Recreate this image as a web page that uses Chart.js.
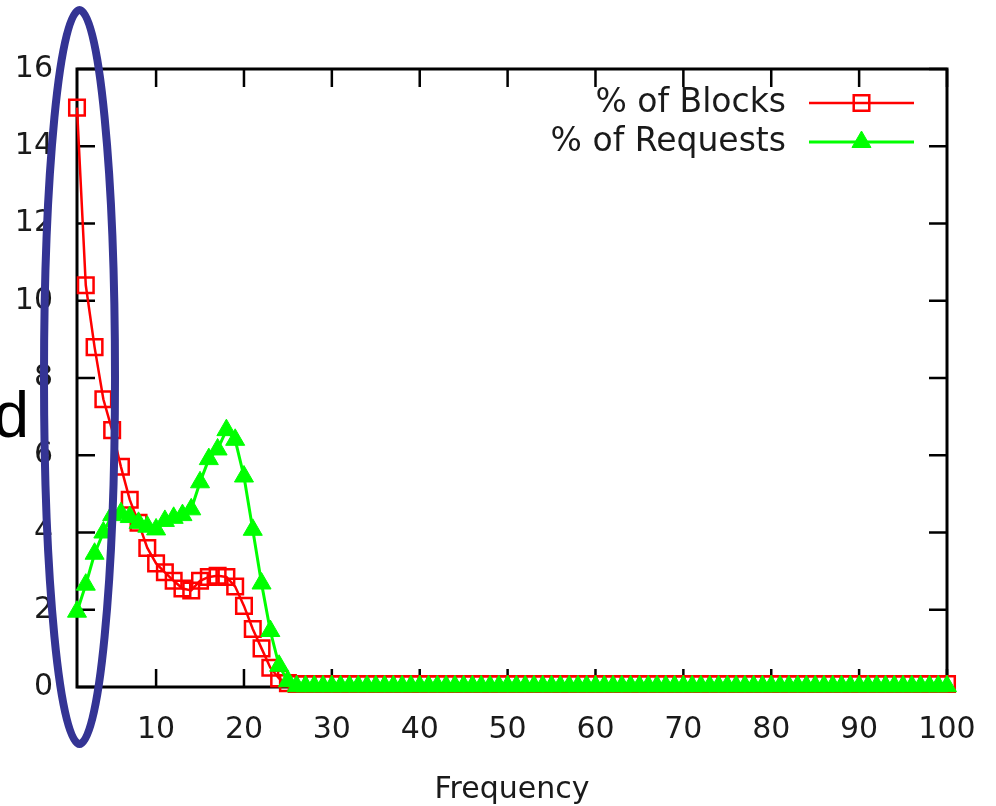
<!DOCTYPE html>
<html>
<head>
<meta charset="utf-8">
<script src="https://cdn.jsdelivr.net/npm/chart.js@4.4.1/dist/chart.umd.min.js"></script>
<style>
body { margin: 0; background: #fff; }
canvas { display: block; }
</style>
</head>
<body>
<canvas id="c" width="996" height="806"></canvas>
<script>
// frequency values on the x axis
var freq = [1, 2, 3, 4, 5, 6, 7, 8, 9, 10,
    11, 12, 13, 14, 15, 16, 17, 18, 19, 20,
    21, 22, 23, 24, 25, 26, 27, 28, 29, 30,
    31, 32, 33, 34, 35, 36, 37, 38, 39, 40,
    41, 42, 43, 44, 45, 46, 47, 48, 49, 50,
    51, 52, 53, 54, 55, 56, 57, 58, 59, 60,
    61, 62, 63, 64, 65, 66, 67, 68, 69, 70,
    71, 72, 73, 74, 75, 76, 77, 78, 79, 80,
    81, 82, 83, 84, 85, 86, 87, 88, 89, 90,
    91, 92, 93, 94, 95, 96, 97, 98, 99, 100];

var blocks = [15.0, 10.4, 8.8, 7.45, 6.65, 5.7, 4.85, 4.25, 3.6, 3.2,
    2.97, 2.75, 2.55, 2.5, 2.75, 2.85, 2.88, 2.85, 2.6, 2.1,
    1.5, 1.0, 0.5, 0.22, 0.1, 0.08, 0.08, 0.08, 0.08, 0.08,
    0.08, 0.08, 0.08, 0.08, 0.08, 0.08, 0.08, 0.08, 0.08, 0.08,
    0.08, 0.08, 0.08, 0.08, 0.08, 0.08, 0.08, 0.08, 0.08, 0.08,
    0.08, 0.08, 0.08, 0.08, 0.08, 0.08, 0.08, 0.08, 0.08, 0.08,
    0.08, 0.08, 0.08, 0.08, 0.08, 0.08, 0.08, 0.08, 0.08, 0.08,
    0.08, 0.08, 0.08, 0.08, 0.08, 0.08, 0.08, 0.08, 0.08, 0.08,
    0.08, 0.08, 0.08, 0.08, 0.08, 0.08, 0.08, 0.08, 0.08, 0.08,
    0.08, 0.08, 0.08, 0.08, 0.08, 0.08, 0.08, 0.08, 0.08, 0.08];

var requests = [1.95, 2.65, 3.45, 4.0, 4.45, 4.5, 4.4, 4.25, 4.15, 4.08,
    4.3, 4.38, 4.45, 4.6, 5.3, 5.9, 6.15, 6.65, 6.4, 5.45,
    4.07, 2.68, 1.45, 0.55, 0.15, 0.02, 0.02, 0.02, 0.02, 0.02,
    0.02, 0.02, 0.02, 0.02, 0.02, 0.02, 0.02, 0.02, 0.02, 0.02,
    0.02, 0.02, 0.02, 0.02, 0.02, 0.02, 0.02, 0.02, 0.02, 0.02,
    0.02, 0.02, 0.02, 0.02, 0.02, 0.02, 0.02, 0.02, 0.02, 0.02,
    0.02, 0.02, 0.02, 0.02, 0.02, 0.02, 0.02, 0.02, 0.02, 0.02,
    0.02, 0.02, 0.02, 0.02, 0.02, 0.02, 0.02, 0.02, 0.02, 0.02,
    0.02, 0.02, 0.02, 0.02, 0.02, 0.02, 0.02, 0.02, 0.02, 0.02,
    0.02, 0.02, 0.02, 0.02, 0.02, 0.02, 0.02, 0.02, 0.02, 0.02];

var xTicks = [10, 20, 30, 40, 50, 60, 70, 80, 90, 100];
var yTicks = [0, 2, 4, 6, 8, 10, 12, 14, 16];
var seriesNames = ['% of Blocks', '% of Requests'];
var xTitle = 'Frequency';

var FONT = 'DejaVu Sans',
    TEXT = '#1a1a1a';

function toPoints(ys) {
    return freq.map(function(f, i) {
        return { x: f, y: ys[i] };
    });
}

// gnuplot style box with inward ticks on all four sides
var framePlugin = {
    id: 'frame',
    beforeDatasetsDraw: function(chart) {
        var ctx = chart.ctx, a = chart.chartArea,
            xs = chart.scales.x, ys = chart.scales.y, len = 18;
        ctx.save();
        ctx.strokeStyle = '#000';
        ctx.lineWidth = 3;
        ctx.strokeRect(a.left, a.top, a.right - a.left, a.bottom - a.top);
        ctx.lineWidth = 2.5;
        ctx.beginPath();
        xTicks.forEach(function(v) {
            var px = xs.getPixelForValue(v);
            ctx.moveTo(px, a.bottom); ctx.lineTo(px, a.bottom - len);
            ctx.moveTo(px, a.top); ctx.lineTo(px, a.top + len);
        });
        yTicks.forEach(function(v) {
            var py = ys.getPixelForValue(v);
            ctx.moveTo(a.left, py); ctx.lineTo(a.left + len, py);
            ctx.moveTo(a.right, py); ctx.lineTo(a.right - len, py);
        });
        ctx.stroke();
        ctx.restore();
    }
};

// legend in the top right, text left of the sample line
var keyPlugin = {
    id: 'key',
    afterDatasetsDraw: function(chart) {
        var ctx = chart.ctx;
        var textRight = 786, lineL = 809, lineR = 914, rows = [103, 142];
        ctx.save();
        chart.data.datasets.forEach(function(ds, i) {
            var y = rows[i];
            ctx.font = '33px "' + FONT + '"';
            ctx.fillStyle = TEXT;
            ctx.textAlign = 'right';
            ctx.textBaseline = 'middle';
            ctx.fillText(ds.label, textRight, y);
            ctx.strokeStyle = ds.borderColor;
            ctx.lineWidth = ds.borderWidth;
            ctx.beginPath();
            ctx.moveTo(lineL, y); ctx.lineTo(lineR, y);
            ctx.stroke();
            ctx.fillStyle = ds.pointBackgroundColor;
            ctx.strokeStyle = ds.pointBorderColor;
            ctx.lineWidth = ds.pointBorderWidth;
            Chart.helpers.drawPoint(ctx, {
                pointStyle: ds.pointStyle,
                radius: ds.pointRadius,
                rotation: 0,
                borderWidth: ds.pointBorderWidth
            }, (lineL + lineR) / 2, y);
        });
        ctx.restore();
    }
};

// slide overlay: blue ellipse round the y axis and a cut off letter
var overlayPlugin = {
    id: 'overlay',
    afterDraw: function(chart) {
        var ctx = chart.ctx;
        ctx.save();
        ctx.font = '64px "Liberation Sans"';
        ctx.fillStyle = '#000';
        ctx.textAlign = 'right';
        ctx.textBaseline = 'alphabetic';
        ctx.fillText('d', 29, 437);
        ctx.strokeStyle = '#343494';
        ctx.lineWidth = 8;
        ctx.beginPath();
        ctx.ellipse(79.5, 377, 35.5, 367, 0, 0, Math.PI * 2);
        ctx.stroke();
        ctx.restore();
    }
};

var chart = new Chart(document.getElementById('c').getContext('2d'), {
    type: 'line',
    data: {
        datasets: [{
            label: seriesNames[0],
            data: toPoints(blocks),
            borderColor: '#ff0000',
            borderWidth: 2.5,
            pointStyle: 'rect',
            pointRadius: 11,
            pointBorderWidth: 2.5,
            pointBorderColor: '#ff0000',
            pointBackgroundColor: 'rgba(0,0,0,0)',
            tension: 0,
            order: 1
        }, {
            label: seriesNames[1],
            data: toPoints(requests),
            borderColor: '#00ff00',
            borderWidth: 3,
            pointStyle: 'triangle',
            pointRadius: 11,
            pointBorderWidth: 1,
            pointBorderColor: '#00ff00',
            pointBackgroundColor: '#00ff00',
            tension: 0,
            order: 0
        }]
    },
    options: {
        responsive: false,
        animation: false,
        clip: false,
        layout: { padding: { top: 69, right: 49, left: 0, bottom: 0 } },
        plugins: {
            legend: { display: false },
            tooltip: { enabled: false }
        },
        scales: {
            x: {
                type: 'linear',
                min: 1,
                max: 100,
                afterBuildTicks: function(s) {
                    s.ticks = xTicks.map(function(v) { return { value: v }; });
                },
                afterFit: function(s) {
                    s.height = 119;
                    s.paddingLeft = 0;
                    s.paddingRight = 0;
                },
                grid: { display: false, drawTicks: false },
                border: { display: false },
                ticks: {
                    font: { family: FONT, size: 30 },
                    color: TEXT,
                    padding: 25,
                    maxRotation: 0,
                    autoSkip: false
                },
                title: {
                    display: true,
                    text: xTitle,
                    font: { family: FONT, size: 30 },
                    color: TEXT,
                    padding: { top: 0, bottom: -2 }
                }
            },
            y: {
                type: 'linear',
                min: 0,
                max: 16,
                afterBuildTicks: function(s) {
                    s.ticks = yTicks.map(function(v) { return { value: v }; });
                },
                afterFit: function(s) {
                    s.width = 77;
                    s.paddingTop = 0;
                    s.paddingBottom = 0;
                },
                grid: { display: false, drawTicks: false },
                border: { display: false },
                ticks: {
                    font: { family: FONT, size: 30 },
                    color: TEXT,
                    padding: 24
                }
            }
        }
    },
    plugins: [framePlugin, keyPlugin, overlayPlugin]
});
</script>
</body>
</html>
